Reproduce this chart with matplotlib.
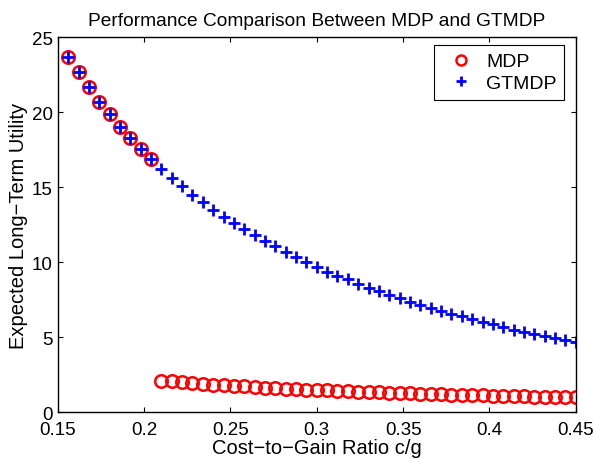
import matplotlib
matplotlib.use("Agg")
import matplotlib.pyplot as plt

plt.rcParams['font.family'] = ['Liberation Sans', 'DejaVu Sans']

# cost-to-gain ratio c/g
x_vals = [0.156, 0.162, 0.168, 0.174, 0.180, 0.186, 0.192, 0.198, 0.204,
          0.210, 0.216, 0.222, 0.228, 0.234, 0.240, 0.246, 0.252, 0.258, 0.264,
          0.270, 0.276, 0.282, 0.288, 0.294, 0.300, 0.306, 0.312, 0.318, 0.324,
          0.330, 0.336, 0.342, 0.348, 0.354, 0.360, 0.366, 0.372, 0.378, 0.384,
          0.390, 0.396, 0.402, 0.408, 0.414, 0.420, 0.426, 0.432, 0.438, 0.444,
          0.450]

gtmdp = [23.7, 22.7, 21.65, 20.7, 19.85, 19.0, 18.3, 17.55, 16.85,
         16.2, 15.6, 15.05, 14.5, 14.0, 13.5, 13.0, 12.6, 12.2, 11.8,
         11.4, 11.05, 10.7, 10.35, 10.0, 9.68, 9.35, 9.1, 8.85, 8.55,
         8.3, 8.05, 7.8, 7.58, 7.36, 7.14, 6.95, 6.75, 6.55, 6.38,
         6.2, 6.02, 5.85, 5.68, 5.5, 5.35, 5.2, 5.05, 4.92, 4.8,
         4.66]

mdp = [23.7, 22.7, 21.65, 20.7, 19.85, 19.0, 18.3, 17.55, 16.85,
       2.10, 2.04, 1.98, 1.93, 1.88, 1.83, 1.79, 1.75, 1.71, 1.67,
       1.63, 1.59, 1.56, 1.53, 1.50, 1.47, 1.44, 1.41, 1.38, 1.36,
       1.33, 1.31, 1.29, 1.26, 1.24, 1.22, 1.20, 1.18, 1.16, 1.15,
       1.13, 1.11, 1.09, 1.08, 1.06, 1.05, 1.03, 1.02, 1.00, 0.99,
       0.98]

fig = plt.figure(figsize=(5.96, 4.6), dpi=100)
ax = fig.add_axes([0.097, 0.102, 0.869, 0.815])

ax.plot(x_vals, mdp, linestyle='none', marker='o', markersize=9,
        markerfacecolor='none', markeredgecolor='red', markeredgewidth=1.8,
        label='MDP')
ax.plot(x_vals, gtmdp, linestyle='none', marker='+', markersize=9,
        color='blue', markeredgewidth=2, label='GTMDP')

ax.set_xlim(0.15, 0.45)
ax.set_ylim(0, 25)
ax.set_xticks([0.15, 0.2, 0.25, 0.3, 0.35, 0.4, 0.45])
ax.set_xticklabels(['0.15', '0.2', '0.25', '0.3', '0.35', '0.4', '0.45'])
ax.set_yticks([0, 5, 10, 15, 20, 25])
ax.tick_params(direction='in', top=True, right=True, labelsize=13.5, length=3.5)
ax.tick_params(axis='x', pad=6.5)
ax.tick_params(axis='y', pad=3.6)
for s in ax.spines.values():
    s.set_linewidth(1.0)

ax.set_xlabel('Cost\u2212to\u2212Gain Ratio c/g', fontsize=14.5, labelpad=0)
ax.set_ylabel('Expected Long\u2212Term Utility', fontsize=14.5, labelpad=3)
ax.set_title('Performance Comparison Between MDP and GTMDP', fontsize=13.8, pad=9)

leg = ax.legend(loc='upper right', fontsize=14, fancybox=False,
                edgecolor='black', framealpha=1, borderpad=0.4,
                handletextpad=0.3, handlelength=2.0, markerscale=0.8,
                labelspacing=0.2, borderaxespad=0,
                bbox_to_anchor=(0.978, 0.979))
leg.get_frame().set_linewidth(0.8)

fig.savefig('out.png', dpi=100)
